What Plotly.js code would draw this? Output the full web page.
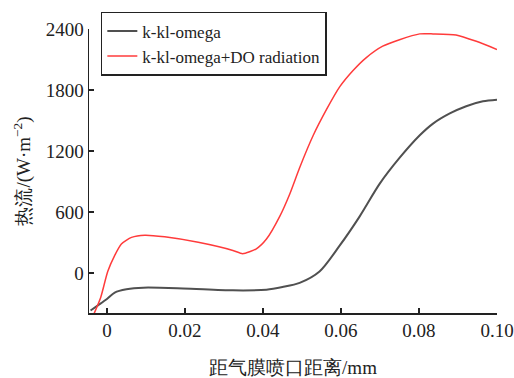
<!DOCTYPE html>
<html>
<head>
<meta charset="utf-8">
<script src="https://cdn.plot.ly/plotly-3.0.1.min.js"></script>
<style>html,body{margin:0;padding:0;background:#fff;}#chart{width:514px;height:378px;}</style>
</head>
<body>
<div id="chart"></div>
<script>
// Distance from film hole (mm) and heat flux (W·m^-2)
const xBlack = [-0.0042, -0.0024, 0.0, 0.002, 0.005, 0.0093, 0.0195, 0.0323, 0.0409, 0.045, 0.0494, 0.0545, 0.0597, 0.0648, 0.0699, 0.075, 0.0802, 0.0836, 0.0879, 0.0921, 0.0964, 0.100];
const yBlack = [-367, -319, -255, -191, -159, -143, -150, -169, -163, -137, -96, 16, 272, 558, 877, 1132, 1355, 1470, 1570, 1641, 1689, 1705];
const xRed = [-0.0033, -0.0016, 0.0002, 0.002, 0.0037, 0.0063, 0.0097, 0.0148, 0.0234, 0.0323, 0.0348, 0.0383, 0.0409, 0.0443, 0.0469, 0.0494, 0.0529, 0.0563, 0.0597, 0.0631, 0.0665, 0.0707, 0.075, 0.0802, 0.0836, 0.0895, 0.0947, 0.100];
const yRed = [-398, -239, 16, 175, 287, 351, 373, 357, 303, 223, 191, 239, 335, 558, 781, 1036, 1355, 1609, 1833, 1992, 2119, 2231, 2295, 2352, 2352, 2342, 2279, 2199];
const seriesNames = ['k-kl-omega', 'k-kl-omega+DO radiation'];
const xTickVals = [0, 0.02, 0.04, 0.06, 0.08, 0.10];
const xTickText = ['0', '0.02', '0.04', '0.06', '0.08', '0.10'];
const yTickVals = [0, 600, 1200, 1800, 2400];
const yTickText = ['0', '600', '1200', '1800', '2400'];

const serif = 'Liberation Serif';
const traces = [
  {x: xBlack, y: yBlack, name: seriesNames[0], mode: 'lines', line: {color: '#505050', width: 2, shape: 'spline', smoothing: 0.8}},
  {x: xRed, y: yRed, name: seriesNames[1], mode: 'lines', line: {color: '#ff3b3b', width: 1.5, shape: 'spline', smoothing: 0.6}}
];
const layout = {
  width: 514, height: 378,
  margin: {l: 89, r: 17, t: 21, b: 65},
  paper_bgcolor: '#fff', plot_bgcolor: '#fff',
  font: {family: serif, size: 19, color: '#222'},
  showlegend: true,
  legend: {x: 0.029, y: 1.06, xanchor: 'left', yanchor: 'top', bgcolor: '#fff', bordercolor: '#222', borderwidth: 1.5, font: {family: serif, size: 17, color: '#222'}, tracegroupgap: 0, itemwidth: 30},
  xaxis: {
    range: [-0.0046, 0.1], showgrid: false, zeroline: false,
    showline: true, linecolor: '#222', linewidth: 1.5,
    ticks: 'inside', ticklen: 5, tickwidth: 1.5, tickcolor: '#222',
    tickvals: xTickVals, ticktext: xTickText,
    tickfont: {family: serif, size: 19, color: '#222'},
    title: {text: '距气膜喷口距离/mm', font: {family: serif, size: 19, color: '#222'}, standoff: 20}
  },
  yaxis: {
    range: [-392, 2400], showgrid: false, zeroline: false,
    showline: true, linecolor: '#222', linewidth: 1.5,
    ticks: 'inside', ticklen: 5, tickwidth: 1.5, tickcolor: '#222',
    tickvals: yTickVals, ticktext: yTickText,
    tickfont: {family: serif, size: 19, color: '#222'},
    title: {text: '热流/(W·m<sup>−2</sup>)', font: {family: serif, size: 19, color: '#222'}, standoff: 10}
  }
};
Plotly.newPlot('chart', traces, layout, {displayModeBar: false, staticPlot: true});
</script>
</body>
</html>
